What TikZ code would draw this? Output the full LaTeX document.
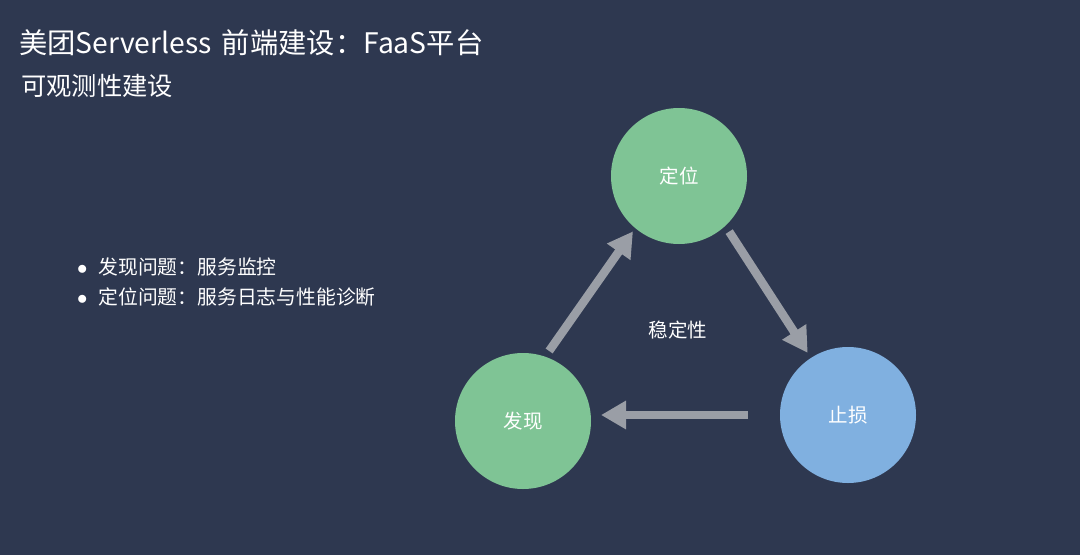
\documentclass[tikz,border=0pt]{standalone}
\usepackage{fontspec}
\setmainfont{Noto Sans CJK SC}
\usetikzlibrary{arrows.meta}
\definecolor{slidebg}{HTML}{2E3850}
\definecolor{okgreen}{HTML}{7FC495}
\definecolor{stopblue}{HTML}{80B0E0}
\definecolor{flowgray}{HTML}{9A9EA6}
\tikzset{
  stage/.style={circle, fill=#1, minimum size=136pt, inner sep=0pt, outer sep=0pt,
    text=white, font=\fontsize{19.5}{20}\selectfont},
  flow/.style={draw=flowgray, line width=8.5pt, -{Triangle[length=25pt,width=27pt]}},
  point/.style={anchor=west, inner sep=0pt, text=white, font=\fontsize{19.8}{20}\selectfont},
}
\begin{document}
\begin{tikzpicture}[x=1pt,y=-1pt]
\fill[slidebg] (0,0) rectangle (1080,555);
\node[anchor=west, inner sep=0pt, text=white, font=\fontsize{28.3}{29}\selectfont] (title) at (19,43) {美团Serverless\hspace{4pt} 前端建设：FaaS平台};
\node[anchor=west, inner sep=0pt, text=white, font=\fontsize{25.3}{26}\selectfont] (sub) at (21,86) {可观测性建设};
\node[point] (p1) at (77,267) {$\bullet$\hspace{11pt}发现问题：服务监控};
\node[point] (p2) at (77,297) {$\bullet$\hspace{11pt}定位问题：服务日志与性能诊断};
\node[stage=okgreen] (locate) at (679,176) {定位};
\node[stage=okgreen] (find) at (523,421) {发现};
\node[stage=stopblue] (stop) at (848,415) {止损};
\node[text=white, font=\fontsize{19.5}{20}\selectfont] (core) at (678,330) {稳定性};
\draw[flow, shorten <=7pt, shorten >=4pt] (find.71) -- (locate.230);
\draw[flow, shorten <=7pt, shorten >=6pt] (locate.313) -- (stop.123);
\draw[flow, shorten <=32pt, shorten >=10pt] (stop.west) -- (find.east |- stop.west);
\end{tikzpicture}
\end{document}
